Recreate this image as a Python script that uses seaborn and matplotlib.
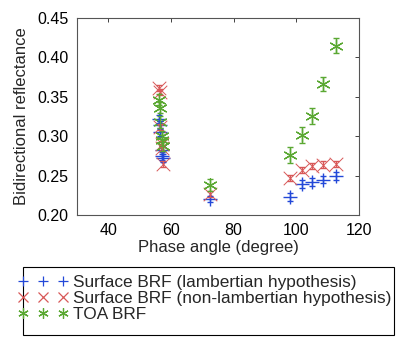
import matplotlib
matplotlib.use('Agg')
import matplotlib.pyplot as plt
from matplotlib.patches import Rectangle
import seaborn as sns
import pandas as pd

# phase angle (degree) of each acquisition
phase = [56.3, 56.5, 56.6, 57.0, 57.2, 57.5, 72.6, 98.1, 101.7, 105.1, 108.6, 112.7]

surf_lamb = [0.322, 0.314, 0.305, 0.283, 0.275, 0.272, 0.220, 0.223, 0.239, 0.242, 0.245, 0.249]
surf_lamb_err = [0.005, 0.005, 0.005, 0.005, 0.005, 0.005, 0.004, 0.005, 0.005, 0.005, 0.005, 0.005]

surf_nonlamb = [0.361, 0.356, 0.312, 0.290, 0.285, 0.265, 0.227, 0.247, 0.257, 0.262, 0.264, 0.265]
surf_nonlamb_err = [0.004, 0.004, 0.004, 0.004, 0.004, 0.004, 0.004, 0.004, 0.004, 0.004, 0.004, 0.004]

toa = [0.346, 0.336, 0.318, 0.300, 0.295, 0.288, 0.238, 0.276, 0.302, 0.326, 0.366, 0.415]
toa_err = [0.007, 0.007, 0.007, 0.007, 0.007, 0.007, 0.008, 0.010, 0.010, 0.010, 0.009, 0.010]

labels = ['Surface BRF (lambertian hypothesis)',
          'Surface BRF (non-lambertian hypothesis)',
          'TOA BRF']

sns.set_style('white')
plt.rcParams['font.family'] = ['Liberation Sans', 'DejaVu Sans']

fig = plt.figure(figsize=(4.02, 3.44), dpi=100)
ax = fig.add_axes([0.1915, 0.375, 0.7015, 0.5727])

series = [
    (surf_lamb, surf_lamb_err, '#2348d8', '+', 1.0),
    (surf_nonlamb, surf_nonlamb_err, '#d85858', 'x', 0.7),
    (toa, toa_err, '#5aa832', (6, 2, 0), 0.9),
]
handles = []
for (vals, errs, col, mk, lw), lab in zip(series, labels):
    df = pd.DataFrame({'phase': phase, 'brf': vals})
    ax.errorbar(phase, vals, yerr=errs, fmt='none', ecolor=col, elinewidth=1.0,
                capsize=2.5, capthick=1.0)
    sns.scatterplot(data=df, x='phase', y='brf', ax=ax, marker=mk, color=col,
                    s=95, linewidth=lw, legend=False)
    h, = ax.plot([], [], linestyle='none', marker=mk, color=col, markersize=7.5,
                 markeredgecolor=col, markeredgewidth=0.9, label=lab)
    handles.append(h)

ax.set_xlim(30, 120)
ax.set_ylim(0.20, 0.45)
ax.set_xticks([40, 60, 80, 100, 120])
ax.set_yticks([0.20, 0.25, 0.30, 0.35, 0.40, 0.45])
ax.set_yticklabels(['%.2f' % v for v in [0.20, 0.25, 0.30, 0.35, 0.40, 0.45]])
ax.tick_params(direction='in', length=3, width=0.6, top=True, right=True,
               labelsize=11.5, colors='#222222', pad=6)
ax.tick_params(axis='both', labelcolor='black')
for sp in ax.spines.values():
    sp.set_color('#555555')
    sp.set_linewidth(0.8)
ax.set_xlabel('Phase angle (degree)', fontsize=12, labelpad=1)
ax.set_ylabel('Bidirectional reflectance', fontsize=12, labelpad=6)

# legend content without its own frame, box drawn separately (MATLAB style)
leg = fig.legend(handles=handles, labels=labels, loc='upper left',
                 bbox_to_anchor=(0.0443, 0.2006), numpoints=3, fontsize=12.4,
                 frameon=False, borderaxespad=0, borderpad=0,
                 handlelength=2.92, handletextpad=0.28, labelspacing=0.05)
fig.add_artist(Rectangle((23 / 402, 9 / 344), 371 / 402, 68 / 344,
                         transform=fig.transFigure, fill=False,
                         edgecolor='black', linewidth=0.8, zorder=0))

fig.savefig('out.png', dpi=100)
